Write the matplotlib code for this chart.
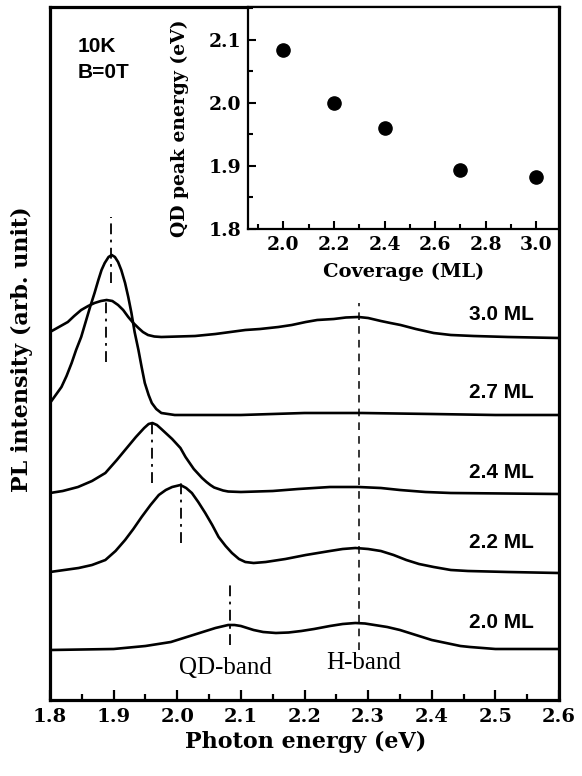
import matplotlib
matplotlib.use("Agg")
import matplotlib.pyplot as plt
from matplotlib.ticker import MultipleLocator

# PL spectra (energy in eV, intensity in arb. units, stacked)
E_20 = [1.80, 1.85, 1.90, 1.95, 1.97, 1.99, 2.01, 2.035, 2.05, 2.06, 2.08, 2.09, 2.10, 2.12, 2.135,
        2.155, 2.175, 2.195, 2.215, 2.24, 2.26, 2.28, 2.295, 2.31, 2.33, 2.35, 2.375, 2.40, 2.415,
        2.43, 2.445, 2.46, 2.48, 2.50, 2.55, 2.60]
I_20 = [50, 50.5, 51, 54, 56, 58, 62, 67, 70, 72, 75, 75, 74, 70, 68,
        67, 67.5, 69, 71, 74, 76, 77, 76.5, 75, 73, 70, 65, 60, 58,
        56, 54, 53, 52, 51, 51, 51]

E_22 = [1.80, 1.845, 1.866, 1.887, 1.903, 1.918, 1.931, 1.944, 1.958, 1.971, 1.982, 1.992, 2.005,
        2.014, 2.023, 2.033, 2.044, 2.055, 2.065, 2.076, 2.086, 2.097, 2.107, 2.12, 2.139, 2.17,
        2.202, 2.24, 2.26, 2.28, 2.30, 2.32, 2.34, 2.36, 2.38, 2.403, 2.43, 2.457, 2.52, 2.60]
I_22 = [128, 132, 135, 140, 149, 160, 171, 183, 195, 205, 210, 213, 215,
        212, 207, 198, 187, 175, 163, 154, 147, 141, 138, 137, 138, 141,
        145, 149, 151, 152, 151, 149, 145, 140, 136, 133, 130, 129, 128, 127]

E_24 = [1.80, 1.82, 1.844, 1.866, 1.887, 1.905, 1.918, 1.935, 1.948, 1.955, 1.961, 1.968, 1.975,
        1.992, 2.005, 2.013, 2.026, 2.039, 2.046, 2.052, 2.058, 2.065, 2.072, 2.08, 2.10, 2.15,
        2.19, 2.24, 2.285, 2.32, 2.35, 2.39, 2.43, 2.60]
I_24 = [207, 209, 213, 219, 227, 240, 250, 263, 272, 276, 277, 275, 271,
        261, 252, 243, 231, 222, 218, 215, 212.5, 211, 209.5, 208.5, 208, 209,
        211, 213, 213, 212, 210, 208, 207, 206]

E_27 = [1.80, 1.818, 1.826, 1.834, 1.841, 1.849, 1.856, 1.863, 1.870, 1.876, 1.881, 1.886, 1.892,
        1.897, 1.902, 1.907, 1.912, 1.918, 1.923, 1.928, 1.933, 1.939, 1.944, 1.949, 1.955, 1.960,
        1.967, 1.975, 1.996, 2.05, 2.10, 2.20, 2.29, 2.40, 2.50, 2.60]
I_27 = [297, 313, 324, 337, 350, 363, 378, 393, 407, 420, 430, 437, 443,
        445, 443, 438, 430, 417, 403, 387, 368, 350, 333, 317, 305, 297,
        291, 287, 285, 285, 285, 287, 287, 286, 285, 285]

E_30 = [1.80, 1.814, 1.828, 1.838, 1.849, 1.860, 1.870, 1.880, 1.889, 1.898, 1.907, 1.915, 1.923,
        1.931, 1.939, 1.946, 1.954, 1.964, 1.975, 2.028, 2.06, 2.107, 2.13, 2.159, 2.18, 2.202,
        2.22, 2.246, 2.265, 2.285, 2.30, 2.32, 2.335, 2.351, 2.375, 2.403, 2.43, 2.466, 2.52, 2.60]
I_30 = [368, 373, 378, 384, 390, 394, 397, 399, 400, 399, 395, 390, 383,
        377, 372, 368, 365, 363.5, 363, 364, 366, 370, 371, 373, 375, 378,
        380, 381, 382.5, 383, 382, 379, 377, 375, 371, 367, 365, 364, 363, 362]

labels = ["2.0 ML", "2.2 ML", "2.4 ML", "2.7 ML", "3.0 ML"]
label_y = [78, 157, 228, 308, 385]

# QD peak markers (dash-dot) and the H-band line
qd_E = [2.083, 2.006, 1.961, 1.896, 1.888]
qd_lo = [55, 157, 217, 417, 338]
qd_hi = [118, 222, 280, 483, 403]
hband_E = 2.285
hband_span = [50, 397]

# inset: QD peak energy vs coverage
coverage = [2.0, 2.2, 2.4, 2.7, 3.0]
peak_energy = [2.084, 2.000, 1.960, 1.893, 1.883]

W, H = 582, 776
fig = plt.figure(figsize=(W / 100, H / 100), dpi=100)
ax = fig.add_axes([50 / W, 76 / H, 509 / W, 693 / H])

for E, I in [(E_20, I_20), (E_22, I_22), (E_24, I_24), (E_27, I_27), (E_30, I_30)]:
    ax.plot(E, I, color="black", lw=1.9, solid_joinstyle="round", solid_capstyle="round")

for e, lo, hi in zip(qd_E, qd_lo, qd_hi):
    ax.plot([e, e], [lo, hi], color="black", lw=1.3, dashes=(6, 3, 1.5, 3))
ax.plot([hband_E, hband_E], hband_span, color="black", lw=1.1, dashes=(5, 4))

for lab, y in zip(labels, label_y):
    ax.text(2.561, y, lab, ha="right", va="center", fontsize=15,
            family="Liberation Sans", fontweight="bold")

ax.text(1.843, 653, "10K", ha="left", va="center", fontsize=15,
        family="Liberation Sans", fontweight="bold")
ax.text(1.843, 627, "B=0T", ha="left", va="center", fontsize=15,
        family="Liberation Sans", fontweight="bold")

ax.text(2.076, 32, "QD-band", ha="center", va="center", fontsize=18, family="Liberation Serif")
ax.text(2.293, 37, "H-band", ha="center", va="center", fontsize=18, family="Liberation Serif")

ax.set_xlim(1.8, 2.6)
ax.set_ylim(0, 693)
ax.xaxis.set_minor_locator(MultipleLocator(0.05))
ax.set_xticks([1.8, 1.9, 2.0, 2.1, 2.2, 2.3, 2.4, 2.5, 2.6])
ax.set_xticklabels(["1.8", "1.9", "2.0", "2.1", "2.2", "2.3", "2.4", "2.5", "2.6"],
                   family="DejaVu Serif", fontweight="bold", fontsize=14)
ax.set_yticks([])
ax.tick_params(axis="x", which="major", direction="in", length=7, width=1.6, pad=6)
ax.tick_params(axis="x", which="minor", direction="in", length=4, width=1.6)
for s in ax.spines.values():
    s.set_linewidth(2.3)

ax.set_xlabel("Photon energy (eV)", family="DejaVu Serif", fontweight="bold", fontsize=16)
ax.xaxis.set_label_coords(0.503, -0.044)
ax.set_ylabel("PL intensity (arb. unit)", family="DejaVu Serif", fontweight="bold", fontsize=16)
ax.yaxis.set_label_coords(-0.034, 0.506)

# inset
ins = fig.add_axes([248 / W, (H - 229) / H, (559 - 248) / W, (229 - 7) / H])
ins.plot(coverage, peak_energy, "o", color="black", markersize=9.5)
ins.set_xlim(1.86, 3.09)
ins.set_ylim(1.8, 2.152)
ins.set_xticks([2.0, 2.2, 2.4, 2.6, 2.8, 3.0])
ins.set_xticklabels(["2.0", "2.2", "2.4", "2.6", "2.8", "3.0"],
                    family="DejaVu Serif", fontweight="bold", fontsize=13.5)
ins.xaxis.set_minor_locator(MultipleLocator(0.1))
ins.set_yticks([1.8, 1.9, 2.0, 2.1])
ins.set_yticklabels(["1.8", "1.9", "2.0", "2.1"],
                    family="DejaVu Serif", fontweight="bold", fontsize=13.5)
ins.yaxis.set_minor_locator(MultipleLocator(0.05))
ins.tick_params(which="major", direction="in", length=6, width=1.5, pad=5)
ins.tick_params(which="minor", direction="in", length=3.5, width=1.5)
for s in ins.spines.values():
    s.set_linewidth(1.6)
ins.set_xlabel("Coverage (ML)", family="DejaVu Serif", fontweight="bold", fontsize=14)
ins.xaxis.set_label_coords(0.5, -0.15)
ins.set_ylabel("QD peak energy (eV)", family="DejaVu Serif", fontweight="bold", fontsize=13.5)
ins.yaxis.set_label_coords(-0.19, 0.455)

fig.savefig("out.png", dpi=100)
